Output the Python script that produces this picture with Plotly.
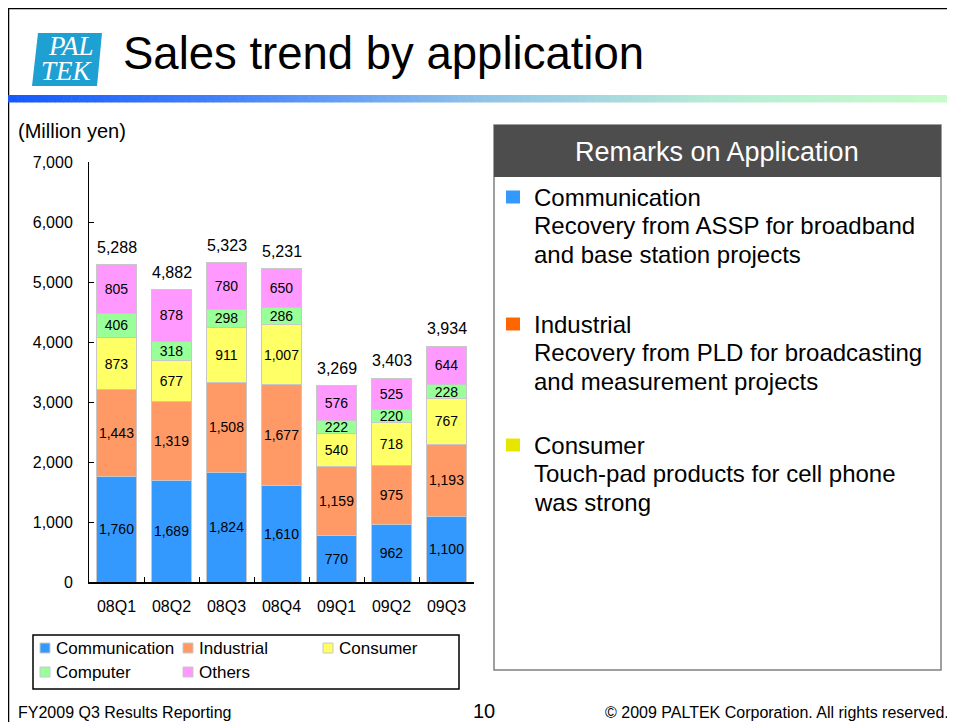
import plotly.graph_objects as go

# ---------------- data ----------------
categories = ["08Q1", "08Q2", "08Q3", "08Q4", "09Q1", "09Q2", "09Q3"]
communication = [1760, 1689, 1824, 1610, 770, 962, 1100]
industrial = [1443, 1319, 1508, 1677, 1159, 975, 1193]
consumer = [873, 677, 911, 1007, 540, 718, 767]
computer = [406, 318, 298, 286, 222, 220, 228]
others = [805, 878, 780, 650, 576, 525, 644]
totals = [5288, 4882, 5323, 5231, 3269, 3403, 3934]
y_ticks = [0, 1000, 2000, 3000, 4000, 5000, 6000, 7000]

series_names = ["Communication", "Industrial", "Consumer", "Computer", "Others"]
series_values = [communication, industrial, consumer, computer, others]
series_colors = ["#3399ff", "#ff9966", "#ffff66", "#99ff99", "#ff99ff"]

FONT = "Liberation Sans, Arial, sans-serif"
OFF = 8  # page body margin
W, H = 947, 714
L, R, T, B = 81, 481, 154, 140
PW = W - L - R
PH = H - T - B


def X(px):
    # page pixel -> paper x
    return (px - OFF - L) / PW


def Y(py):
    # page pixel -> paper y
    return (H - B - (py - OFF)) / PH


fig = go.Figure()
for name, vals, col in zip(series_names, series_values, series_colors):
    fig.add_trace(go.Bar(
        x=categories, y=vals, name=name,
        marker=dict(color=col, line=dict(color="#c8c8c8", width=1)),
        text=[f"{v:,}" for v in vals],
        textposition="inside", insidetextanchor="middle", textangle=0,
        textfont=dict(family=FONT, size=14, color="black"),
        hoverinfo="x+y+name",
    ))

annotations = []
# totals above bars
for c, t in zip(categories, totals):
    annotations.append(dict(x=c, y=t, xref="x", yref="y", text=f"{t:,}",
                            showarrow=False, yanchor="middle", yshift=17,
                            font=dict(family=FONT, size=16, color="black")))

shapes = []
# frame lines
shapes.append(dict(type="line", xref="paper", yref="paper", x0=X(7), x1=X(960),
                   y0=Y(8), y1=Y(8), line=dict(color="black", width=2.5)))
shapes.append(dict(type="line", xref="paper", yref="paper", x0=X(8), x1=X(8),
                   y0=Y(7), y1=Y(730), line=dict(color="black", width=2.5)))

# gradient bar under title
stops = [(0.0, (20, 90, 255)), (0.25, (75, 135, 248)), (0.5, (145, 195, 232)),
         (0.75, (185, 236, 215)), (1.0, (200, 252, 200))]


def grad(f):
    for (f0, c0), (f1, c1) in zip(stops[:-1], stops[1:]):
        if f0 <= f <= f1:
            k = (f - f0) / (f1 - f0)
            return "rgb(%d,%d,%d)" % tuple(round(a + (b - a) * k) for a, b in zip(c0, c1))
    return "rgb(200,252,200)"


N = 120
gx0, gx1 = 8, 956
for i in range(N):
    a = gx0 + (gx1 - gx0) * i / N
    b = gx0 + (gx1 - gx0) * (i + 1) / N + 0.6
    shapes.append(dict(type="rect", xref="paper", yref="paper", x0=X(a), x1=X(b),
                       y0=Y(102.5), y1=Y(95), line=dict(width=0),
                       fillcolor=grad(i / (N - 1))))

# logo
shapes.append(dict(type="path", xref="paper", yref="paper",
                   path=f"M {X(38)},{Y(33)} L {X(102)},{Y(33)} L {X(97)},{Y(86)} L {X(32)},{Y(86)} Z",
                   fillcolor="#1ea0d2", line=dict(width=0)))
annotations.append(dict(x=X(71), y=Y(46), xref="paper", yref="paper", text="PAL",
                        showarrow=False, xanchor="center", yanchor="middle",
                        font=dict(family="Liberation Serif, serif", size=27, color="white", style="italic")))
annotations.append(dict(x=X(67), y=Y(71), xref="paper", yref="paper", text="TEK",
                        showarrow=False, xanchor="center", yanchor="middle",
                        font=dict(family="Liberation Serif, serif", size=27, color="white", style="italic")))
# title
annotations.append(dict(x=X(121), y=Y(53), xref="paper", yref="paper",
                        text="Sales trend by application", showarrow=False,
                        xanchor="left", yanchor="middle",
                        font=dict(family=FONT, size=45.5, color="black")))
# unit label
annotations.append(dict(x=X(16), y=Y(131), xref="paper", yref="paper",
                        text="(Million yen)", showarrow=False,
                        xanchor="left", yanchor="middle",
                        font=dict(family=FONT, size=20, color="black")))

# legend box (manual)
shapes.append(dict(type="rect", xref="paper", yref="paper", x0=X(33), x1=X(459),
                   y0=Y(689), y1=Y(635), line=dict(color="black", width=1.5),
                   fillcolor="white"))
legend_pos = [(40, 648), (183, 648), (323, 648), (40, 672), (183, 672)]
for (lx, ly), name, col in zip(legend_pos, series_names, series_colors):
    shapes.append(dict(type="rect", xref="paper", yref="paper", x0=X(lx), x1=X(lx + 10),
                       y0=Y(ly + 5), y1=Y(ly - 5), line=dict(color="#c8c8c8", width=1),
                       fillcolor=col))
    annotations.append(dict(x=X(lx + 14), y=Y(ly), xref="paper", yref="paper", text=name,
                            showarrow=False, xanchor="left", yanchor="middle",
                            font=dict(family=FONT, size=17, color="black")))

# remarks box
shapes.append(dict(type="rect", xref="paper", yref="paper", x0=X(494), x1=X(941),
                   y0=Y(670), y1=Y(125), line=dict(color="#808080", width=1.5),
                   fillcolor="white"))
shapes.append(dict(type="rect", xref="paper", yref="paper", x0=X(494), x1=X(941),
                   y0=Y(177), y1=Y(125), line=dict(width=0), fillcolor="#4d4d4d"))
annotations.append(dict(x=X(717), y=Y(152), xref="paper", yref="paper",
                        text="Remarks on Application", showarrow=False,
                        xanchor="center", yanchor="middle",
                        font=dict(family=FONT, size=27, color="white")))
remarks = [
    ("#3399ff", 197, ["Communication", "Recovery from ASSP for broadband", "and base station projects"]),
    ("#ff6600", 324, ["Industrial", "Recovery from PLD for broadcasting", "and measurement projects"]),
    ("#e6e600", 445, ["Consumer", "Touch-pad products for cell phone", "was strong"]),
]
for col, y0, lines in remarks:
    shapes.append(dict(type="rect", xref="paper", yref="paper", x0=X(506), x1=X(520),
                       y0=Y(y0 + 6.5), y1=Y(y0 - 6.5), line=dict(width=0), fillcolor=col))
    for j, ln in enumerate(lines):
        annotations.append(dict(x=X(532), y=Y(y0 + 28.5 * j), xref="paper", yref="paper",
                                text=ln, showarrow=False, xanchor="left", yanchor="middle",
                                font=dict(family=FONT, size=24, color="black")))

# footer
annotations.append(dict(x=X(16), y=Y(712), xref="paper", yref="paper",
                        text="FY2009 Q3 Results Reporting", showarrow=False,
                        xanchor="left", yanchor="middle",
                        font=dict(family=FONT, size=16, color="black")))
annotations.append(dict(x=X(484), y=Y(711), xref="paper", yref="paper",
                        text="10", showarrow=False, xanchor="center", yanchor="middle",
                        font=dict(family=FONT, size=20, color="black")))
annotations.append(dict(x=X(951), y=Y(712), xref="paper", yref="paper",
                        text="© 2009 PALTEK Corporation. All rights reserved.", showarrow=False,
                        xanchor="right", yanchor="middle",
                        font=dict(family=FONT, size=16, color="black")))

fig.update_layout(
    width=W, height=H, autosize=False,
    margin=dict(l=L, r=R, t=T, b=B, pad=0),
    paper_bgcolor="white", plot_bgcolor="white",
    barmode="stack", bargap=0.27,
    showlegend=False,
    uniformtext=dict(minsize=14, mode="show"),
    font=dict(family=FONT, color="black"),
    xaxis=dict(type="category", tickson="boundaries", ticks="inside", ticklen=5,
               tickcolor="black", showline=True, linecolor="black", linewidth=2,
               showgrid=False, zeroline=False, ticklabelstandoff=9,
               tickfont=dict(family=FONT, size=16, color="black")),
    yaxis=dict(range=[0, 7000], tickvals=y_ticks, tickformat=",", ticks="inside",
               ticklen=5, tickcolor="black", showline=True, linecolor="black",
               linewidth=1, showgrid=False, zeroline=False, ticklabelstandoff=12,
               tickfont=dict(family=FONT, size=16, color="black")),
    shapes=shapes,
    annotations=annotations,
)

fig.write_html("out.html")
